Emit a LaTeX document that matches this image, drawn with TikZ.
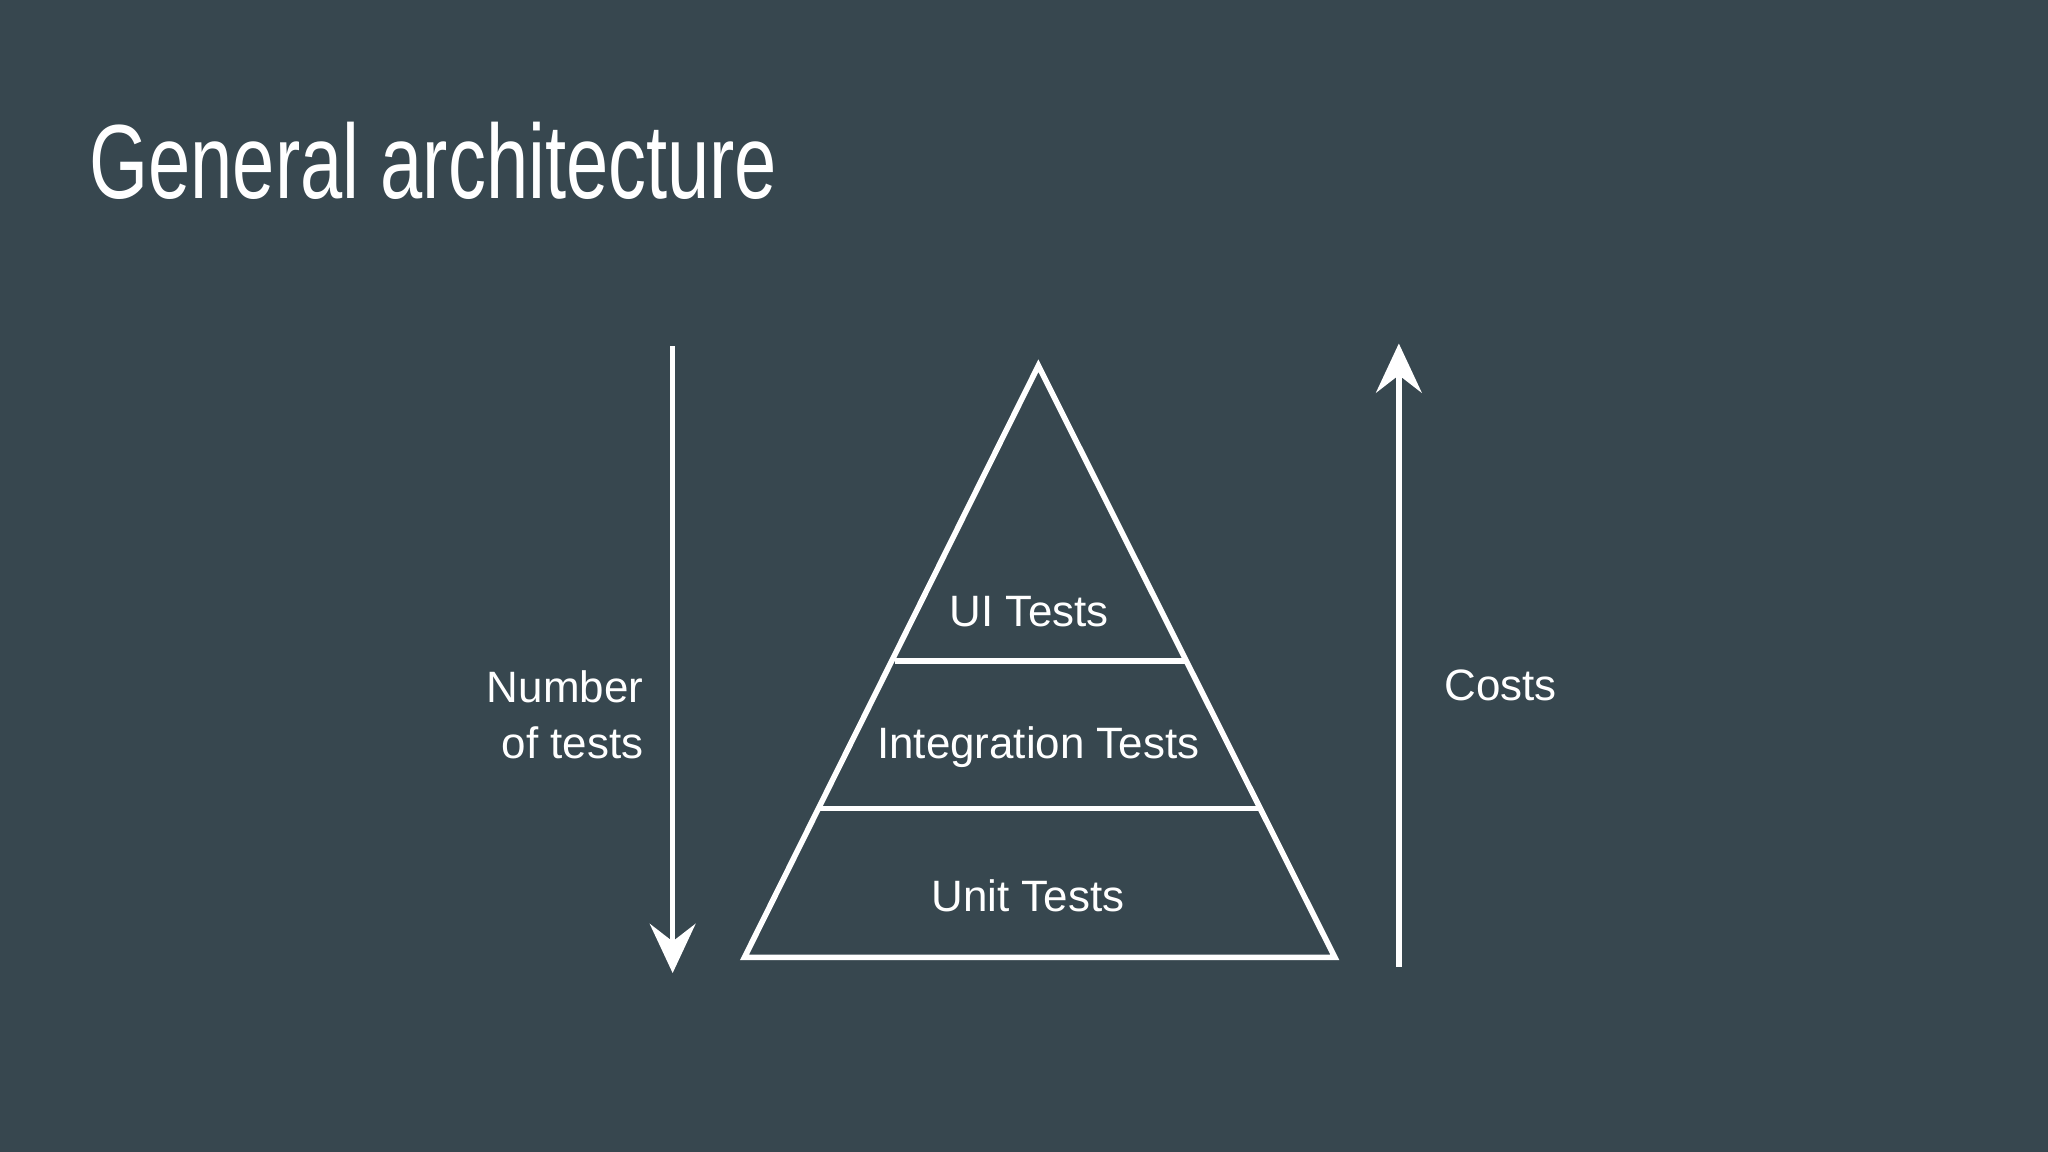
\documentclass[tikz,border=0pt]{standalone}
\usepackage{fontspec}
\setmainfont{Liberation Sans}
\newfontfamily\titlefont[FakeStretch=0.72]{Liberation Sans}
\usetikzlibrary{arrows.meta}
\definecolor{bg}{HTML}{37474F}
\begin{document}
\begin{tikzpicture}[x=0.013061cm,y=-0.013061cm,
  wl/.style={white,line width=1.6pt},
  lbl/.style={text=white,font=\fontsize{12.5}{15}\selectfont,inner sep=0pt},
  arr/.style={wl,-{Stealth[length=14pt,width=13pt,inset=5pt]}}]
\fill[bg] (0,0) rectangle (1568,882);
\useasboundingbox (0,0) rectangle (1568,882);
\node[anchor=base west,text=white,inner sep=0pt,font=\titlefont\fontsize{30}{34}\selectfont] (title) at (68,152) {General architecture};
\coordinate (apex) at (795,280);
\coordinate (bl) at (570,733);
\coordinate (br) at (1022,733);
\draw[wl,line join=miter] (apex) -- (br) -- (bl) -- cycle;
\coordinate (l1a) at (685,506); \coordinate (l1b) at (908,506);
\coordinate (l2a) at (628,619); \coordinate (l2b) at (965,619);
\draw[wl] (l1a) -- (l1b);
\draw[wl] (l2a) -- (l2b);
\node[lbl] (ui) at (788,468) {UI Tests};
\node[lbl] (int) at (795,572) {Integration Tests};
\node[lbl] (unit) at (787,686) {Unit Tests};
\coordinate (la) at (515,265); \coordinate (lb) at (515,745);
\draw[arr] (la) -- (lb);
\coordinate (ra) at (1071,740); \coordinate (rb) at (1071,263);
\draw[arr] (ra) -- (rb);
\node[lbl,align=right,anchor=east,font=\fontsize{12.5}{16}\selectfont] (num) at (493,547) {Number\\of tests};
\node[lbl] (costs) at (1149,525) {Costs};
\end{tikzpicture}
\end{document}
